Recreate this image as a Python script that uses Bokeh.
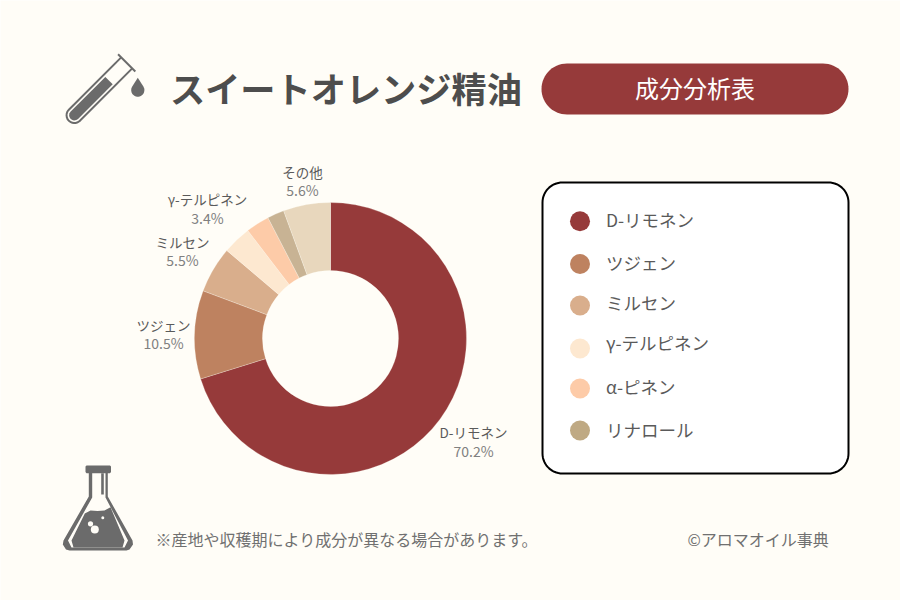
import numpy as np
from bokeh.plotting import figure
from bokeh.models import Range1d, ColumnDataSource
from bokeh.core.properties import value
from bokeh.embed import file_html
from bokeh.resources import INLINE

title = "スイートオレンジ精油"
badge = "成分分析表"
note = "※産地や収穫期により成分が異なる場合があります。"
credit = "©アロマオイル事典"

slice_names = ["D-リモネン", "ツジェン", "ミルセン", "γ-テルピネン", "α-ピネン", "リナロール", "その他"]
slice_values = [70.2, 10.5, 5.5, 3.4, 2.8, 2.0, 5.6]
slice_colors = ["#963A3A", "#BE8260", "#D9AE8C", "#FDE8D0", "#FDCBA8", "#C8B394", "#E8D7BD"]

label_names = ["D-リモネン", "ツジェン", "ミルセン", "γ-テルピネン", "その他"]
label_texts = ["70.2%", "10.5%", "5.5%", "3.4%", "5.6%"]

legend_names = ["D-リモネン", "ツジェン", "ミルセン", "γ-テルピネン", "α-ピネン", "リナロール"]
legend_colors = ["#963A3A", "#BE8260", "#D9AE8C", "#FDE8D0", "#FDCBA8", "#BFA983"]

BG = "#FFFDF7"
INK = "#4D4D4D"
GREY = "#6B6B6B"
FONT = value("Noto Sans CJK JP")
CX, CY = 330, 338


def X(px):
    return np.asarray(px, dtype=float) - CX


def Y(py):
    return CY - np.asarray(py, dtype=float)


p = figure(width=900, height=600, output_backend="svg", toolbar_location=None,
           x_range=Range1d(X(0), X(900)), y_range=Range1d(Y(600), Y(0)),
           x_axis_location=None, y_axis_location=None, min_border=0,
           background_fill_color=BG, border_fill_color=BG, outline_line_color=None)
p.grid.visible = False


def txt(x, y, s, size, color=INK, align="center", style="normal"):
    p.text(x=[float(X(x))], y=[float(Y(y))], text=[s], text_font=FONT, text_font_size=f"{size}px",
           text_color=color, text_align=align, text_baseline="middle", text_font_style=style)


def rrect(l, t, r, b, rad, n=16):
    xs, ys = [], []
    for cx, cy, a0 in [(r - rad, t + rad, -90), (r - rad, b - rad, 0), (l + rad, b - rad, 90), (l + rad, t + rad, 180)]:
        a = np.radians(np.linspace(a0, a0 + 90, n))
        xs += list(cx + rad * np.cos(a))
        ys += list(cy + rad * np.sin(a))
    return X(xs), Y(ys)


def shape(pts, color, **kw):
    a = np.array(pts, dtype=float)
    p.patch(X(a[:, 0]), Y(a[:, 1]), fill_color=color, line_color=None, **kw)


# header
txt(169.5, 87, title, 35.2, INK, "left", "bold")
bx, by = rrect(541, 63, 848, 114, 25.5)
p.patch(bx, by, fill_color="#963A3A", line_color=None)
txt(694.5, 87, badge, 24, "#FFFFFF")

# doughnut
fracs = np.array(slice_values) / sum(slice_values)
cum = np.concatenate([[0], np.cumsum(fracs)])
src = ColumnDataSource(dict(start=np.pi / 2 - cum[:-1] * 2 * np.pi, end=np.pi / 2 - cum[1:] * 2 * np.pi,
                            color=slice_colors, name=slice_names))
p.annular_wedge(x=0, y=0, inner_radius=68, outer_radius=136, start_angle="start", end_angle="end",
                direction="clock", fill_color="color", line_color=BG, line_width=0.25, source=src)

label_pos = [(473, 431, 450), (163, 324, 342), (182, 241, 259), (207, 198, 217), (302, 171, 189)]
for (lx, y1, y2), n, t in zip(label_pos, label_names, label_texts):
    txt(lx, y1, n, 13.5, "#5A5A5A")
    txt(lx, y2, t, 14, "#808080")

# legend
lx, ly = rrect(542, 182, 848, 473, 20)
p.patch(lx, ly, fill_color="#FFFFFF", line_color="#000000", line_width=2)
dot_y = [220.7, 263.5, 305, 348, 388, 430]
text_y = [219, 262, 302, 342, 386, 429]
p.scatter(x=X([579.5] * 6), y=Y(dot_y), size=20, marker="circle", fill_color=legend_colors, line_color=None)
for yy, n in zip(text_y, legend_names):
    txt(605.5, yy, n, 17.5, "#5A5A5A", "left")

# footer
txt(155, 538, note, 16, "#707070", "left")
txt(687, 538, credit, 16, "#707070", "left")


# test tube icon (axis runs 45 degrees)
def tube(u, v):
    ox, oy = 126.2, 62.4
    return (ox + (-u + v) * 0.7071, oy + (u + v) * 0.7071)


def tube_outline(h, u0, u1):
    pts = [tube(u0, -h), tube(u0, h)]
    a = np.radians(np.linspace(0, 180, 16))
    pts += [tube(u1 + h * np.sin(t), h * np.cos(t)) for t in a]
    return pts


shape(tube_outline(8.8, 0, 74), GREY)
shape(tube_outline(6.8, 0, 74), BG)
shape(tube_outline(5.2, 25, 74), GREY)
shape([tube(-1, -12.2), tube(-1, 12.2), tube(1, 12.2), tube(1, -12.2)], GREY)
shape([(137.3 + 6.6 * np.cos(t), 89.6 - 6.6 * np.sin(t)) for t in np.radians(np.linspace(-215, 35, 24))] + [(137.3, 77.3)], GREY)

# flask icon
outer = [(86, 465), (109.5, 465), (110.5, 466), (110.5, 471.5), (109.5, 472.7), (107.3, 472.7), (107.3, 496),
         (132, 540), (132.5, 544), (129, 549), (126, 550), (69, 550), (65.5, 549), (62.3, 544), (63, 540),
         (88.3, 496), (88.3, 472.7), (86, 472.7), (85, 471.5), (85, 466)]
inner = [(91.7, 472.7), (105, 472.7), (105, 497), (127.5, 540), (124, 547), (71, 547), (67.5, 540), (91.7, 497)]
liquid = [(84.3, 513), (90, 510), (97, 510.5), (104, 510), (110, 506.7), (124, 540), (122, 547), (73, 547), (71, 540)]
shape(outer, GREY)
shape(inner, BG)
shape(liquid, GREY)
shape([(100.7, 472.7), (103.3, 472.7), (103.3, 494), (100.7, 494)], GREY)
p.circle(x=X([90, 94.3, 102.3]), y=Y([523.3, 529, 517.3]), radius=[2.6, 4, 1.5], fill_color=BG, line_color=None)

open("out.html", "w").write(file_html(p, INLINE))
